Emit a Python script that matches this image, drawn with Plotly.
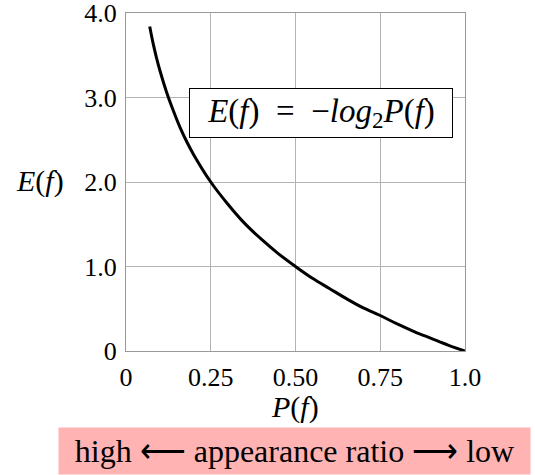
import plotly.graph_objects as go

# Values
p_values = [0.07, 0.08, 0.09, 0.10, 0.12, 0.14, 0.16, 0.18, 0.20, 0.25, 0.30, 0.35, 0.40,
            0.45, 0.50, 0.55, 0.60, 0.65, 0.70, 0.75, 0.80, 0.85, 0.90, 0.95, 1.0]
e_values = [3.84, 3.64, 3.47, 3.32, 3.06, 2.84, 2.64, 2.47, 2.32, 2.00, 1.74, 1.51, 1.32,
            1.15, 1.00, 0.86, 0.74, 0.62, 0.51, 0.42, 0.32, 0.23, 0.15, 0.07, 0.0]

x_tick_vals = [0, 0.25, 0.5, 0.75, 1.0]
x_tick_text = ["0", "0.25", "0.50", "0.75", "1.0"]
y_tick_vals = [0, 1, 2, 3, 4]
y_tick_text = ["0", "1.0", "2.0", "3.0", "4.0"]

FONT = "Liberation Serif"
W, H = 535, 475
L, R, T, B = 126, 70, 13, 124
PW, PH = W - L - R, H - T - B


def px_to_paper(x, y):
    return (x - L) / PW, (H - B - y) / PH


fig = go.Figure()
fig.add_trace(go.Scatter(x=p_values, y=e_values, mode="lines",
                         line=dict(color="black", width=3, shape="spline"),
                         showlegend=False, hoverinfo="skip"))

ylab = px_to_paper(40, 181)
xlab = px_to_paper(295, 407)
note = px_to_paper(294.5, 451)

fig.update_layout(
    width=W, height=H,
    margin=dict(l=L, r=R, t=T, b=B, autoexpand=False),
    plot_bgcolor="white", paper_bgcolor="white",
    font=dict(family=FONT, size=26, color="black"),
    xaxis=dict(range=[0, 1.0], tickvals=x_tick_vals, ticktext=x_tick_text,
               showgrid=True, gridcolor="#b3b3b3", gridwidth=1,
               showline=True, linecolor="#999999", linewidth=1, mirror=True,
               ticks="outside", ticklen=3, tickcolor="rgba(0,0,0,0)",
               ticklabeloverflow="allow",
               zeroline=False, fixedrange=True, automargin=False),
    yaxis=dict(range=[0, 4.0], tickvals=y_tick_vals, ticktext=y_tick_text,
               showgrid=True, gridcolor="#b3b3b3", gridwidth=1,
               showline=True, linecolor="#999999", linewidth=1, mirror=True,
               ticks="outside", ticklen=3, tickcolor="rgba(0,0,0,0)",
               ticklabeloverflow="allow",
               zeroline=False, fixedrange=True, automargin=False),
    annotations=[
        dict(x=0.575, y=2.817, xref="x", yref="y", showarrow=False,
             xanchor="center", yanchor="middle",
             text="<i>E</i>(<i>f</i>)  =  −<i>log</i><sub>2</sub><i>P</i>(<i>f</i>)",
             font=dict(family=FONT, size=33), bgcolor="white",
             bordercolor="black", borderwidth=1, borderpad=0,
             width=262, height=48),
        dict(x=ylab[0], y=ylab[1], xref="paper", yref="paper", showarrow=False,
             xanchor="center", yanchor="middle",
             text="<i>E</i>(<i>f</i>)", font=dict(family=FONT, size=30)),
        dict(x=xlab[0], y=xlab[1], xref="paper", yref="paper", showarrow=False,
             xanchor="center", yanchor="middle",
             text="<i>P</i>(<i>f</i>)", font=dict(family=FONT, size=30)),
        dict(x=note[0], y=note[1], xref="paper", yref="paper", showarrow=False,
             xanchor="center", yanchor="middle",
             text="high ⟵ appearance ratio ⟶ low",
             font=dict(family=FONT, size=32), bgcolor="#ffb3b3", borderpad=0,
             width=471, height=46),
    ],
)

fig.write_html("out.html", config={"displayModeBar": False},
               post_script="document.body.style.margin='0';")
